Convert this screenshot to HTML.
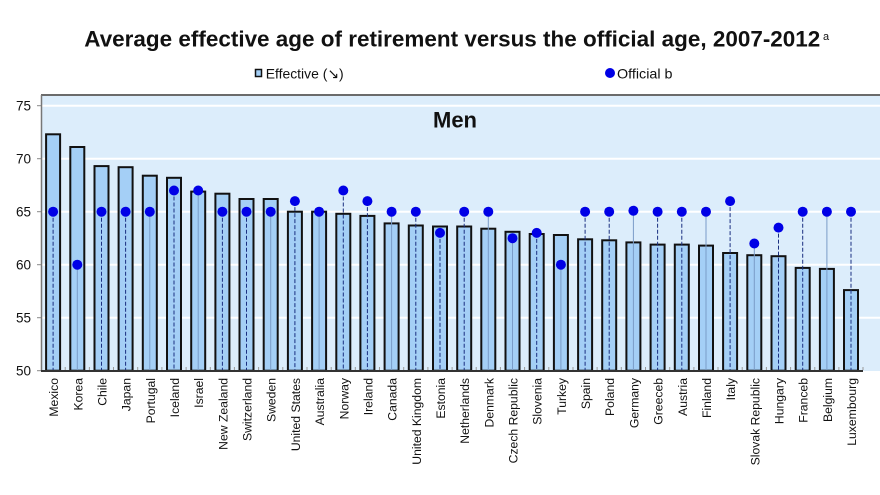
<!DOCTYPE html>
<html><head><meta charset="utf-8"><style>
html,body{margin:0;padding:0;background:#fff;}
svg{display:block;}
text{font-family:"Liberation Sans","DejaVu Sans",Arial,sans-serif;}
</style></head><body>
<svg width="880" height="495" viewBox="0 0 880 495" xmlns="http://www.w3.org/2000/svg">
<rect x="0" y="0" width="880" height="495" fill="#ffffff"/>
<!-- Title -->
<text x="84.3" y="46.7" font-size="22.5" font-weight="bold" fill="#111" textLength="736" lengthAdjust="spacingAndGlyphs">Average effective age of retirement versus the official age, 2007-2012</text>
<text x="823" y="40" font-size="11" fill="#111">a</text>
<!-- Legend -->
<rect x="255.5" y="69.5" width="6" height="7" fill="#a4cff6" stroke="#111" stroke-width="1.5"/>
<text x="265.7" y="78.3" font-size="14" fill="#111" textLength="78" lengthAdjust="spacingAndGlyphs">Effective (↘)</text>
<circle cx="610" cy="73" r="5" fill="#0000e6"/>
<text x="617" y="78.3" font-size="14" fill="#111" textLength="55.5" lengthAdjust="spacingAndGlyphs">Official b</text>
<!-- Plot area -->
<rect x="41" y="95" width="839" height="276" fill="#dcedfb"/>
<g stroke="#ffffff" stroke-width="2">
<line x1="41" y1="105.7" x2="880" y2="105.7"/>
<line x1="41" y1="158.7" x2="880" y2="158.7"/>
<line x1="41" y1="211.7" x2="880" y2="211.7"/>
<line x1="41" y1="264.7" x2="880" y2="264.7"/>
<line x1="41" y1="317.7" x2="880" y2="317.7"/>
</g>
<line x1="41" y1="95" x2="880" y2="95" stroke="#6b6b6b" stroke-width="2"/>
<line x1="41.5" y1="95" x2="41.5" y2="371" stroke="#777" stroke-width="1.5"/>
<g stroke="#888" stroke-width="1">
<line x1="37" y1="105.7" x2="41" y2="105.7"/>
<line x1="37" y1="158.7" x2="41" y2="158.7"/>
<line x1="37" y1="211.7" x2="41" y2="211.7"/>
<line x1="37" y1="264.7" x2="41" y2="264.7"/>
<line x1="37" y1="317.7" x2="41" y2="317.7"/>
<line x1="37" y1="370.7" x2="41" y2="370.7"/>
</g>
<!-- Y labels -->
<g font-size="13.5" fill="#111" text-anchor="end">
<text x="31" y="110.4">75</text>
<text x="31" y="163.4">70</text>
<text x="31" y="216.4">65</text>
<text x="31" y="269.4">60</text>
<text x="31" y="322.4">55</text>
<text x="31" y="375.4">50</text>
</g>
<text x="455" y="127.7" font-size="22" font-weight="bold" fill="#111" text-anchor="middle">Men</text>
<!-- Bars -->
<g fill="#a4cff6" stroke="#111" stroke-width="2">
<rect x="46.1" y="134.3" width="14" height="236.4"/>
<rect x="70.3" y="147.0" width="14" height="223.7"/>
<rect x="94.5" y="166.1" width="14" height="204.6"/>
<rect x="118.6" y="167.2" width="14" height="203.5"/>
<rect x="142.8" y="175.7" width="14" height="195.0"/>
<rect x="167.0" y="177.8" width="14" height="192.9"/>
<rect x="191.2" y="191.6" width="14" height="179.1"/>
<rect x="215.4" y="193.7" width="14" height="177.0"/>
<rect x="239.5" y="199.0" width="14" height="171.7"/>
<rect x="263.7" y="199.0" width="14" height="171.7"/>
<rect x="287.9" y="211.7" width="14" height="159.0"/>
<rect x="312.1" y="211.7" width="14" height="159.0"/>
<rect x="336.3" y="213.8" width="14" height="156.9"/>
<rect x="360.4" y="215.9" width="14" height="154.8"/>
<rect x="384.6" y="223.4" width="14" height="147.3"/>
<rect x="408.8" y="225.5" width="14" height="145.2"/>
<rect x="433.0" y="226.5" width="14" height="144.2"/>
<rect x="457.2" y="226.5" width="14" height="144.2"/>
<rect x="481.3" y="228.7" width="14" height="142.0"/>
<rect x="505.5" y="231.8" width="14" height="138.9"/>
<rect x="529.7" y="234.0" width="14" height="136.7"/>
<rect x="553.9" y="235.0" width="14" height="135.7"/>
<rect x="578.1" y="239.3" width="14" height="131.4"/>
<rect x="602.2" y="240.3" width="14" height="130.4"/>
<rect x="626.4" y="242.4" width="14" height="128.3"/>
<rect x="650.6" y="244.6" width="14" height="126.1"/>
<rect x="674.8" y="244.6" width="14" height="126.1"/>
<rect x="699.0" y="245.6" width="14" height="125.1"/>
<rect x="723.1" y="253.0" width="14" height="117.7"/>
<rect x="747.3" y="255.2" width="14" height="115.5"/>
<rect x="771.5" y="256.2" width="14" height="114.5"/>
<rect x="795.7" y="267.9" width="14" height="102.8"/>
<rect x="819.9" y="268.9" width="14" height="101.8"/>
<rect x="844.0" y="290.1" width="14" height="80.6"/>
</g>
<!-- Drop lines: dashed -->
<g stroke="#1a2f80" stroke-width="1" stroke-dasharray="4,2">
<line x1="53.1" y1="211.7" x2="53.1" y2="370"/>
<line x1="101.5" y1="211.7" x2="101.5" y2="370"/>
<line x1="125.6" y1="211.7" x2="125.6" y2="370"/>
<line x1="174.0" y1="190.5" x2="174.0" y2="370"/>
<line x1="222.4" y1="211.7" x2="222.4" y2="370"/>
<line x1="246.5" y1="211.7" x2="246.5" y2="370"/>
<line x1="294.9" y1="201.1" x2="294.9" y2="370"/>
<line x1="343.3" y1="190.5" x2="343.3" y2="370"/>
<line x1="367.4" y1="201.1" x2="367.4" y2="370"/>
<line x1="415.8" y1="211.7" x2="415.8" y2="370"/>
<line x1="440.0" y1="232.9" x2="440.0" y2="370"/>
<line x1="464.2" y1="211.7" x2="464.2" y2="370"/>
<line x1="536.7" y1="232.9" x2="536.7" y2="370"/>
<line x1="585.1" y1="211.7" x2="585.1" y2="370"/>
<line x1="609.2" y1="211.7" x2="609.2" y2="370"/>
<line x1="657.6" y1="211.7" x2="657.6" y2="370"/>
<line x1="681.8" y1="211.7" x2="681.8" y2="370"/>
<line x1="730.1" y1="201.1" x2="730.1" y2="370"/>
<line x1="778.5" y1="227.6" x2="778.5" y2="370"/>
<line x1="802.7" y1="211.7" x2="802.7" y2="370"/>
<line x1="851.0" y1="211.7" x2="851.0" y2="370"/>
</g>
<!-- Drop lines: solid -->
<g stroke="#7a9cc8" stroke-width="1">
<line x1="77.3" y1="264.7" x2="77.3" y2="370"/>
<line x1="149.8" y1="211.7" x2="149.8" y2="370"/>
<line x1="198.2" y1="190.5" x2="198.2" y2="370"/>
<line x1="270.7" y1="211.7" x2="270.7" y2="370"/>
<line x1="319.1" y1="211.7" x2="319.1" y2="370"/>
<line x1="391.6" y1="211.7" x2="391.6" y2="370"/>
<line x1="488.3" y1="211.7" x2="488.3" y2="370"/>
<line x1="512.5" y1="238.2" x2="512.5" y2="370"/>
<line x1="560.9" y1="264.7" x2="560.9" y2="370"/>
<line x1="633.4" y1="210.7" x2="633.4" y2="370"/>
<line x1="706.0" y1="211.7" x2="706.0" y2="370"/>
<line x1="754.3" y1="243.5" x2="754.3" y2="370"/>
<line x1="826.9" y1="211.7" x2="826.9" y2="370"/>
</g>
<!-- Axis -->
<line x1="41" y1="371" x2="863" y2="371" stroke="#333" stroke-width="2"/>
<g stroke="#999" stroke-width="1">
<line x1="65.2" y1="367" x2="65.2" y2="370"/><line x1="89.4" y1="367" x2="89.4" y2="370"/>
<line x1="113.5" y1="367" x2="113.5" y2="370"/><line x1="137.7" y1="367" x2="137.7" y2="370"/>
<line x1="161.9" y1="367" x2="161.9" y2="370"/><line x1="186.1" y1="367" x2="186.1" y2="370"/>
<line x1="210.3" y1="367" x2="210.3" y2="370"/><line x1="234.4" y1="367" x2="234.4" y2="370"/>
<line x1="258.6" y1="367" x2="258.6" y2="370"/><line x1="282.8" y1="367" x2="282.8" y2="370"/>
<line x1="307.0" y1="367" x2="307.0" y2="370"/><line x1="331.2" y1="367" x2="331.2" y2="370"/>
<line x1="355.3" y1="367" x2="355.3" y2="370"/><line x1="379.5" y1="367" x2="379.5" y2="370"/>
<line x1="403.7" y1="367" x2="403.7" y2="370"/><line x1="427.9" y1="367" x2="427.9" y2="370"/>
<line x1="452.1" y1="367" x2="452.1" y2="370"/><line x1="476.2" y1="367" x2="476.2" y2="370"/>
<line x1="500.4" y1="367" x2="500.4" y2="370"/><line x1="524.6" y1="367" x2="524.6" y2="370"/>
<line x1="548.8" y1="367" x2="548.8" y2="370"/><line x1="573.0" y1="367" x2="573.0" y2="370"/>
<line x1="597.1" y1="367" x2="597.1" y2="370"/><line x1="621.3" y1="367" x2="621.3" y2="370"/>
<line x1="645.5" y1="367" x2="645.5" y2="370"/><line x1="669.7" y1="367" x2="669.7" y2="370"/>
<line x1="693.9" y1="367" x2="693.9" y2="370"/><line x1="718.0" y1="367" x2="718.0" y2="370"/>
<line x1="742.2" y1="367" x2="742.2" y2="370"/><line x1="766.4" y1="367" x2="766.4" y2="370"/>
<line x1="790.6" y1="367" x2="790.6" y2="370"/><line x1="814.8" y1="367" x2="814.8" y2="370"/>
<line x1="838.9" y1="367" x2="838.9" y2="370"/><line x1="863" y1="367" x2="863" y2="370"/>
</g>
<!-- Dots -->
<g fill="#0000e6">
<circle cx="53.1" cy="211.7" r="5"/>
<circle cx="77.3" cy="264.7" r="5"/>
<circle cx="101.5" cy="211.7" r="5"/>
<circle cx="125.6" cy="211.7" r="5"/>
<circle cx="149.8" cy="211.7" r="5"/>
<circle cx="174.0" cy="190.5" r="5"/>
<circle cx="198.2" cy="190.5" r="5"/>
<circle cx="222.4" cy="211.7" r="5"/>
<circle cx="246.5" cy="211.7" r="5"/>
<circle cx="270.7" cy="211.7" r="5"/>
<circle cx="294.9" cy="201.1" r="5"/>
<circle cx="319.1" cy="211.7" r="5"/>
<circle cx="343.3" cy="190.5" r="5"/>
<circle cx="367.4" cy="201.1" r="5"/>
<circle cx="391.6" cy="211.7" r="5"/>
<circle cx="415.8" cy="211.7" r="5"/>
<circle cx="440.0" cy="232.9" r="5"/>
<circle cx="464.2" cy="211.7" r="5"/>
<circle cx="488.3" cy="211.7" r="5"/>
<circle cx="512.5" cy="238.2" r="5"/>
<circle cx="536.7" cy="232.9" r="5"/>
<circle cx="560.9" cy="264.7" r="5"/>
<circle cx="585.1" cy="211.7" r="5"/>
<circle cx="609.2" cy="211.7" r="5"/>
<circle cx="633.4" cy="210.7" r="5"/>
<circle cx="657.6" cy="211.7" r="5"/>
<circle cx="681.8" cy="211.7" r="5"/>
<circle cx="706.0" cy="211.7" r="5"/>
<circle cx="730.1" cy="201.1" r="5"/>
<circle cx="754.3" cy="243.5" r="5"/>
<circle cx="778.5" cy="227.6" r="5"/>
<circle cx="802.7" cy="211.7" r="5"/>
<circle cx="826.9" cy="211.7" r="5"/>
<circle cx="851.0" cy="211.7" r="5"/>
</g>
<!-- X labels -->
<g font-size="12.2" fill="#111" text-anchor="end">
<text transform="translate(58.1,378) rotate(-90)">Mexico</text>
<text transform="translate(82.3,378) rotate(-90)">Korea</text>
<text transform="translate(106.5,378) rotate(-90)">Chile</text>
<text transform="translate(130.6,378) rotate(-90)">Japan</text>
<text transform="translate(154.8,378) rotate(-90)">Portugal</text>
<text transform="translate(179.0,378) rotate(-90)">Iceland</text>
<text transform="translate(203.2,378) rotate(-90)">Israel</text>
<text transform="translate(227.4,378) rotate(-90)">New Zealand</text>
<text transform="translate(251.5,378) rotate(-90)">Switzerland</text>
<text transform="translate(275.7,378) rotate(-90)">Sweden</text>
<text transform="translate(299.9,378) rotate(-90)">United States</text>
<text transform="translate(324.1,378) rotate(-90)">Australia</text>
<text transform="translate(348.3,378) rotate(-90)">Norway</text>
<text transform="translate(372.4,378) rotate(-90)">Ireland</text>
<text transform="translate(396.6,378) rotate(-90)">Canada</text>
<text transform="translate(420.8,378) rotate(-90)">United Kingdom</text>
<text transform="translate(445.0,378) rotate(-90)">Estonia</text>
<text transform="translate(469.2,378) rotate(-90)">Netherlands</text>
<text transform="translate(493.3,378) rotate(-90)">Denmark</text>
<text transform="translate(517.5,378) rotate(-90)">Czech Republic</text>
<text transform="translate(541.7,378) rotate(-90)">Slovenia</text>
<text transform="translate(565.9,378) rotate(-90)">Turkey</text>
<text transform="translate(590.1,378) rotate(-90)">Spain</text>
<text transform="translate(614.2,378) rotate(-90)">Poland</text>
<text transform="translate(638.4,378) rotate(-90)">Germany</text>
<text transform="translate(662.6,378) rotate(-90)">Greeceb</text>
<text transform="translate(686.8,378) rotate(-90)">Austria</text>
<text transform="translate(711.0,378) rotate(-90)">Finland</text>
<text transform="translate(735.1,378) rotate(-90)">Italy</text>
<text transform="translate(759.3,378) rotate(-90)">Slovak Republic</text>
<text transform="translate(783.5,378) rotate(-90)">Hungary</text>
<text transform="translate(807.7,378) rotate(-90)">Franceb</text>
<text transform="translate(831.9,378) rotate(-90)">Belgium</text>
<text transform="translate(856.0,378) rotate(-90)">Luxembourg</text>
</g>
</svg>
</body></html>
